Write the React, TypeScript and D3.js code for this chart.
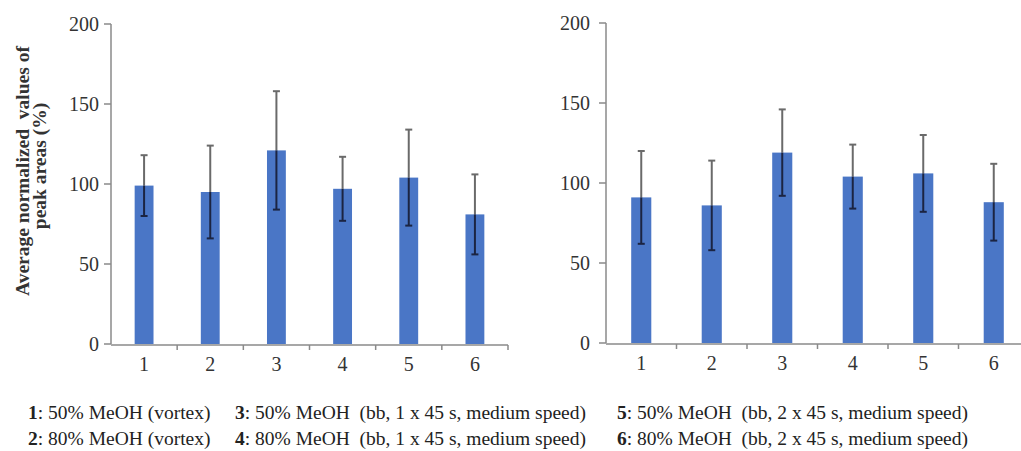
import React from "react";
import * as d3 from "d3";

const categories = ["1", "2", "3", "4", "5", "6"];
const leftMeans = [99, 95, 121, 97, 104, 81];
const leftErrors = [19, 29, 37, 20, 30, 25];
const rightMeans = [91, 86, 119, 104, 106, 88];
const rightErrors = [29, 28, 27, 20, 24, 24];
const yTicks = [0, 50, 100, 150, 200];
const yLabelLines = ["Average normalized  values of", "peak areas (%)"];
const legendItems = [
  { key: "1", text: ": 50% MeOH (vortex)" },
  { key: "2", text: ": 80% MeOH (vortex)" },
  { key: "3", text: ": 50% MeOH  (bb, 1 x 45 s, medium speed)" },
  { key: "4", text: ": 80% MeOH  (bb, 1 x 45 s, medium speed)" },
  { key: "5", text: ": 50% MeOH  (bb, 2 x 45 s, medium speed)" },
  { key: "6", text: ": 80% MeOH  (bb, 2 x 45 s, medium speed)" },
];

const BAR = "#4a76c6";
const AXIS = "#8a8a8a";
const SERIF = "'Liberation Serif', 'Times New Roman', serif";

type PanelProps = {
  means: number[];
  errors: number[];
  x0: number;
  x1: number;
  y0: number;
  y1: number;
  labelGap: number;
};

function Panel({ means, errors, x0, x1, y0, y1, labelGap }: PanelProps) {
  const x = d3.scaleBand<string>().domain(categories).range([x0, x1]).padding(0);
  const y = d3.scaleLinear().domain([0, 200]).range([y0, y1]);
  const bw = x.bandwidth() * 0.285;
  const cap = 3.5;
  return (
    <g>
      <line x1={x0} x2={x0} y1={y(0)} y2={y(200)} stroke={AXIS} strokeWidth={1.5} />
      {yTicks.map((t) => (
        <g key={t}>
          <line x1={x0 - 7} x2={x0} y1={y(t)} y2={y(t)} stroke={AXIS} strokeWidth={1.5} />
          <text
            x={x0 - labelGap}
            y={y(t)}
            dy="0.35em"
            textAnchor="end"
            fontFamily={SERIF}
            fontSize={20}
            fill="#333"
          >
            {t}
          </text>
        </g>
      ))}
      <line x1={x0} x2={x1} y1={y(0) + 1} y2={y(0) + 1} stroke={AXIS} strokeWidth={1.5} />
      {categories.map((c) => (
        <line
          key={"t" + c}
          x1={(x(c) as number) + x.bandwidth()}
          x2={(x(c) as number) + x.bandwidth()}
          y1={y(0) + 1}
          y2={y(0) + 6}
          stroke={AXIS}
          strokeWidth={1.5}
        />
      ))}
      {categories.map((c) => (
        <text
          key={"l" + c}
          x={(x(c) as number) + x.bandwidth() / 2}
          y={y(0) + 20}
          dy="0.35em"
          textAnchor="middle"
          fontFamily={SERIF}
          fontSize={20}
          fill="#333"
        >
          {c}
        </text>
      ))}
      {categories.map((c, i) => {
        const cx = (x(c) as number) + x.bandwidth() / 2;
        return (
          <rect
            key={"b" + c}
            x={cx - bw / 2}
            y={y(means[i])}
            width={bw}
            height={y(0) - y(means[i])}
            fill={BAR}
          />
        );
      })}
      {categories.map((c, i) => {
        const cx = (x(c) as number) + x.bandwidth() / 2;
        const top = y(means[i] + errors[i]);
        const mid = y(means[i]);
        const bot = y(means[i] - errors[i]);
        return (
          <g key={"e" + c}>
            <line x1={cx} x2={cx} y1={top} y2={mid} stroke="#6a6a6a" strokeWidth={2} />
            <line x1={cx - cap} x2={cx + cap} y1={top} y2={top} stroke="#6a6a6a" strokeWidth={2} />
            <line x1={cx} x2={cx} y1={mid} y2={bot} stroke="#1b2442" strokeWidth={2} />
            <line x1={cx - cap} x2={cx + cap} y1={bot} y2={bot} stroke="#1b2442" strokeWidth={2} />
          </g>
        );
      })}
    </g>
  );
}

export default function App() {
  const legendCols = [28, 235, 617];
  const legendRows = [419, 445];
  return (
    <svg
      width={1021}
      height={451}
      style={{ position: "absolute", left: 0, top: 0, background: "#fff" }}
    >
      <rect width={1021} height={451} fill="#fff" />
      <Panel means={leftMeans} errors={leftErrors} x0={111} x1={508} y0={344} y1={24} labelGap={12} />
      <Panel means={rightMeans} errors={rightErrors} x0={606} x1={1029} y0={343} y1={23} labelGap={16} />
      {yLabelLines.map((l, i) => (
        <text
          key={l}
          transform={`translate(${29 + i * 17},${171 - i * 5}) rotate(-90)`}
          textAnchor="middle"
          fontFamily={SERIF}
          fontWeight="bold"
          fontSize={19.5}
          fill="#333"
          style={{ whiteSpace: "pre" }}
        >
          {l}
        </text>
      ))}
      {legendItems.map((it, i) => (
        <text
          key={it.key}
          x={legendCols[Math.floor(i / 2)]}
          y={legendRows[i % 2]}
          fontFamily={SERIF}
          fontSize={19.5}
          fill="#222"
          style={{ whiteSpace: "pre" }}
        >
          <tspan fontWeight="bold">{it.key}</tspan>
          {it.text}
        </text>
      ))}
    </svg>
  );
}
